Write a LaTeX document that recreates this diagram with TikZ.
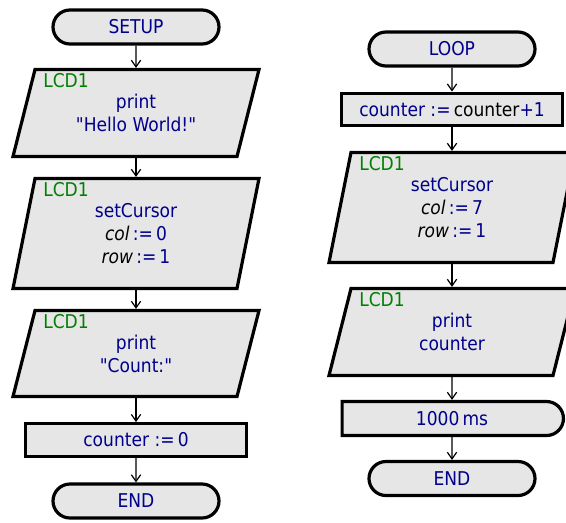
\documentclass[tikz,border=0pt]{standalone}
\usepackage{fontspec}
\setmainfont{DejaVu Sans Condensed}
\usepackage{xcolor}
\definecolor{fcnavy}{RGB}{0,0,140}
\definecolor{fcgreen}{RGB}{0,128,0}
\definecolor{fcfill}{RGB}{230,230,230}
\usetikzlibrary{arrows.meta,positioning,shapes.geometric,shapes.misc}
% parallelogram: name, x, y, half height, text
\newcommand{\ioblock}[5]{%
  \filldraw[outline] (#2-101,#3-#4) -- (#2+123,#3-#4) -- (#2+101,#3+#4) -- (#2-123,#3+#4) -- cycle;
  \node[iotext,minimum height=#4*1.5pt] (#1) at (#2,#3) {#5};
  \node[lcd] (#1l) at (#2-93,#3-#4+4) {LCD1};}

\begin{document}
\begin{tikzpicture}[
  x=0.75pt,y=-0.75pt,
  every node/.style={font=\fontsize{14.25}{17.25}\selectfont,text=fcnavy},
  outline/.style={draw,line width=2.4pt,fill=fcfill},
  base/.style={outline,align=center,inner sep=0pt},
  term/.style={base,rounded rectangle,minimum width=124.5pt,minimum height=25.5pt},
  box/.style={base,rectangle,minimum width=166pt,minimum height=24.5pt},
  delay/.style={base,rounded rectangle,rounded rectangle left arc=none,
    minimum width=166pt,minimum height=25.5pt},
  iotext/.style={align=center,inner sep=0pt,outer sep=1.2pt,minimum width=150pt},
  lcd/.style={text=fcgreen,inner sep=0pt,anchor=north west},
  arr/.style={-{Straight Barb[length=5pt,width=7pt]},line width=0.9pt}
]
  \useasboundingbox (0,0) rectangle (566,522);
  % SETUP column
  \node[term] (setup) at (136,27) {SETUP};
  \ioblock{hello}{136}{113}{43.5}{print\\\textquotedbl Hello World!\textquotedbl}
  \ioblock{cur1}{136}{233.5}{55}
    {setCursor\\{\color{black}\itshape col}\,:=\,0\\{\color{black}\itshape row}\,:=\,1}
  \ioblock{count}{136}{353.5}{43}{print\\\textquotedbl Count:\textquotedbl}
  \node[box] (zero) at (136,440) {counter :=\,0};
  \node[term] (end1) at (136,501) {END};
  % LOOP column
  \node[term] (loop) at (452,49) {LOOP};
  \node[box] (inc) at (452,109.5) {counter :=\,{\color{black}counter}+1};
  \ioblock{cur2}{452}{207.5}{55}
    {setCursor\\{\color{black}\itshape col}\,:=\,7\\{\color{black}\itshape row}\,:=\,1}
  \ioblock{show}{452}{332}{43.5}{print\\counter}
  \node[delay] (wait) at (452,418.5) {1000\,ms};
  \node[term] (end2) at (452,478.5) {END};
  % Arrows
  \draw[arr] (setup) -- (hello);
  \draw[arr] (hello) -- (cur1);
  \draw[arr] (cur1) -- (count);
  \draw[arr] (count) -- (zero);
  \draw[arr] (zero) -- (end1);
  \draw[arr] (loop) -- (inc);
  \draw[arr] (inc) -- (cur2);
  \draw[arr] (cur2) -- (show);
  \draw[arr] (show) -- (wait);
  \draw[arr] (wait) -- (end2);
\end{tikzpicture}
\end{document}
